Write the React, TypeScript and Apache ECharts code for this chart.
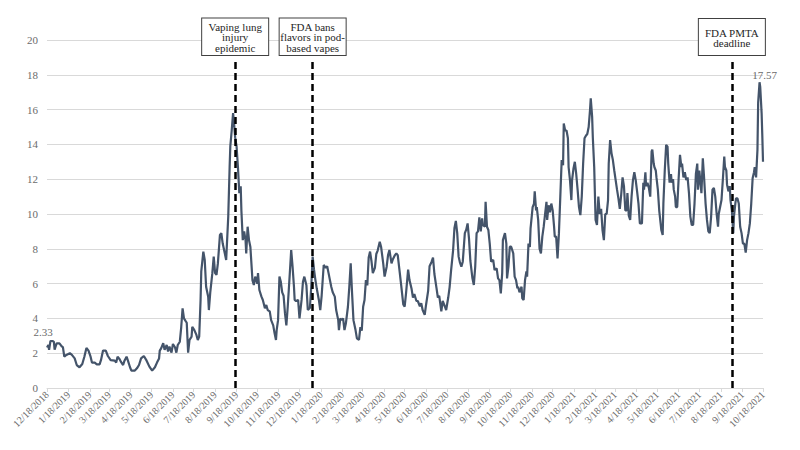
import React, { useEffect, useRef } from 'react';
import * as echarts from 'echarts';

// Day offsets are counted from the first date of the series.
const START_DATE = '2018-12-18';
const END_DATE = '2021-10-18';

// [days since START_DATE, value]
const period2019a: [number, number][] = [
  [0, 2.33], [2, 2.47], [3, 2.2], [5, 2.7], [8, 2.7], [10, 2.65], [11, 2.2], [14, 2.57], [18, 2.57], [21, 2.4],
  [23, 2.35], [25, 1.8], [28, 1.9], [33, 2.0], [36, 1.9], [40, 1.7], [43, 1.32], [47, 1.19], [51, 1.38], [54, 1.8],
  [57, 2.3], [60, 2.15], [63, 1.8], [65, 1.46], [69, 1.46], [72, 1.36], [76, 1.36], [78, 1.6], [81, 2.15], [85, 2.15],
  [88, 1.84], [92, 1.6], [98, 1.57], [100, 1.46], [102, 1.8], [105, 1.65], [107, 1.5], [110, 1.32], [112, 1.57], [115, 1.8],
  [117, 1.57], [120, 1.19], [122, 1.0], [127, 1.0], [130, 1.13], [133, 1.32], [136, 1.7], [140, 1.84], [144, 1.57], [148, 1.23],
  [152, 1.0], [156, 1.19], [159, 1.46], [162, 1.7], [163, 2.15], [165, 2.28], [168, 2.57], [170, 2.2], [173, 2.47], [175, 2.1],
  [177, 2.38], [180, 2.03], [182, 2.53], [185, 2.34], [187, 2.03], [189, 2.47], [192, 2.66], [194, 3.49], [196, 4.58], [198, 4.0],
  [200, 3.87], [202, 3.75], [204, 2.03], [206, 2.76], [209, 2.95], [210, 3.52], [213, 3.33], [216, 3.05], [218, 2.76], [220, 2.95],
  [222, 5.06], [223, 6.7], [226, 7.84], [228, 7.36], [230, 5.82], [233, 5.25], [234, 4.48], [236, 5.5], [239, 6.6], [241, 7.55],
  [243, 6.6], [245, 6.5], [247, 7.16], [250, 8.8],
];

const period2019b: [number, number][] = [
  [252, 8.9], [254, 8.3], [257, 7.74], [259, 7.36], [262, 9.85], [264, 12.7], [265, 13.9], [267, 14.8], [269, 15.8], [270, 15.4],
  [272, 14.4], [274, 13.9], [276, 12.7], [278, 11.2], [280, 11.6], [281, 10.2], [283, 8.5], [285, 9.0], [287, 8.5], [288, 7.74],
  [290, 9.27], [292, 8.5], [294, 8.1], [297, 6.2], [299, 5.92], [301, 6.4], [304, 6.0], [305, 6.6], [307, 5.63], [310, 5.25],
  [312, 5.06], [315, 4.58], [317, 4.77], [319, 4.48], [322, 4.4], [324, 3.9], [327, 3.6], [329, 3.14], [331, 2.76], [332, 3.33],
  [334, 3.9], [336, 6.4], [338, 6.1], [340, 5.5], [342, 5.3], [344, 4.3], [346, 3.6], [348, 4.67], [351, 6.6], [353, 7.93],
  [355, 6.97], [357, 5.82], [358, 5.06], [360, 5.0], [363, 5.06], [365, 4.0], [368, 5.06], [370, 6.1], [372, 6.4], [375, 5.9],
  [377, 4.48], [380, 4.6], [382, 5.82], [384, 7.55], [386, 6.8], [388, 6.2], [390, 5.7], [393, 5.06], [395, 4.48], [397, 5.3],
  [400, 7.07], [403, 6.9], [405, 7.0], [407, 6.6], [409, 6.2], [411, 5.8], [413, 5.5], [416, 5.25], [418, 4.48], [421, 3.9],
  [422, 3.33], [424, 4.0], [426, 3.9], [428, 4.0], [430, 3.33], [432, 3.7], [435, 4.67], [437, 5.82], [439, 7.16], [441, 5.44],
  [443, 3.9], [446, 3.33], [448, 2.85], [451, 2.76], [453, 3.5], [455, 3.3], [457, 4.67], [459, 5.06], [461, 6.2], [463, 5.9],
  [465, 7.5], [467, 7.84], [469, 7.3], [471, 6.6], [474, 6.9], [476, 7.7], [478, 7.9], [481, 8.4],
];

const period2020: [number, number][] = [
  [483, 8.1], [486, 7.16], [488, 6.4], [491, 6.97], [493, 7.64], [495, 7.93], [498, 7.16], [500, 7.4], [503, 7.64], [505, 7.74],
  [507, 7.64], [510, 6.6], [512, 5.9], [515, 4.8], [517, 4.67], [519, 5.44], [522, 6.8], [524, 6.2], [527, 5.7], [529, 5.2],
  [531, 5.4], [534, 5.0], [536, 5.0], [539, 4.7], [541, 4.87], [543, 4.48], [546, 4.2], [548, 4.8], [551, 5.6], [553, 7.0],
  [556, 7.26], [558, 7.5], [560, 6.55], [563, 5.75], [565, 5.2], [567, 5.3], [570, 4.4], [572, 5.0], [575, 4.7], [577, 4.48],
  [580, 5.2], [582, 5.8], [584, 6.7], [587, 7.9], [589, 9.2], [591, 9.6], [593, 8.9], [595, 7.55], [597, 7.2], [599, 6.97],
  [601, 7.26], [604, 8.9], [606, 9.1], [608, 9.46], [610, 8.6], [612, 7.3], [615, 6.3], [617, 5.92], [619, 6.97], [621, 8.9],
  [623, 9.0], [625, 9.8], [627, 9.0], [629, 9.75], [630, 9.37], [633, 9.27], [634, 10.7], [636, 9.27], [638, 9.08], [640, 8.3],
  [642, 7.26], [645, 7.36], [647, 6.78], [650, 6.88], [652, 6.3], [654, 6.2], [656, 5.44], [658, 6.6], [659, 8.5], [662, 8.9],
  [664, 8.3], [665, 6.3], [667, 6.97], [669, 8.12], [671, 8.12], [674, 7.74], [676, 6.4], [678, 6.2], [680, 5.73], [681, 5.82],
  [683, 5.5], [686, 5.82], [687, 5.15], [689, 5.06], [691, 6.2], [693, 6.7], [694, 6.4], [696, 8.3], [698, 8.1], [699, 9.18],
  [702, 10.4], [704, 10.6], [705, 11.3], [707, 10.2], [708, 10.4], [710, 9.66], [712, 8.0], [714, 7.74], [716, 8.7], [718, 9.27],
  [720, 10.0], [722, 10.7], [723, 9.66], [725, 10.5], [727, 10.1], [729, 10.6], [731, 10.2], [733, 9.27], [734, 8.7], [736, 8.7],
  [738, 7.45], [740, 8.9],
];

const period2021: [number, number][] = [
  [742, 11.0], [744, 13.1], [746, 12.8], [747, 15.2], [749, 14.8], [751, 14.8], [753, 14.35], [754, 12.7], [756, 11.95], [758, 10.8],
  [759, 11.95], [761, 12.6], [763, 13.0], [765, 12.3], [767, 11.4], [769, 10.4], [771, 9.94], [773, 11.0], [775, 12.9], [777, 14.35],
  [779, 14.5], [781, 14.6], [783, 15.0], [785, 16.0], [786, 16.65], [788, 15.6], [789, 14.4], [791, 12.7], [793, 9.66], [795, 9.37],
  [797, 11.0], [799, 10.0], [801, 10.3], [803, 9.08], [805, 8.5], [807, 10.0], [809, 10.0], [811, 10.8], [812, 12.9], [814, 14.25],
  [816, 13.5], [818, 13.1], [820, 12.5], [822, 11.95], [824, 11.4], [826, 10.9], [828, 10.3], [830, 11.1], [832, 12.1], [834, 11.6],
  [836, 10.2], [838, 10.2], [839, 11.2], [841, 9.9], [843, 9.66], [845, 11.0], [847, 11.95], [849, 12.4], [851, 11.95], [853, 11.3],
  [855, 10.6], [857, 9.46], [860, 9.46], [862, 11.8], [863, 11.4], [865, 12.4], [866, 11.6], [868, 11.8], [870, 11.5], [872, 11.0],
  [874, 13.6], [875, 13.7], [877, 12.9], [878, 12.7], [880, 12.5], [881, 12.1], [883, 11.4], [885, 10.2], [887, 9.46], [888, 9.08],
  [890, 8.8], [891, 10.6], [893, 12.5], [895, 13.97], [897, 13.87], [898, 12.9], [900, 11.8], [902, 12.3], [903, 11.8], [905, 12.0],
  [906, 11.4], [908, 11.0], [909, 10.4], [911, 10.4], [913, 12.0], [915, 13.4], [917, 12.7], [918, 12.9], [920, 12.1], [922, 12.4],
  [924, 11.95], [926, 12.1], [928, 11.2], [930, 9.85], [932, 9.37], [934, 9.37], [936, 10.6], [938, 12.3], [940, 12.9], [941, 11.4],
  [943, 12.5], [944, 12.05], [946, 11.2], [948, 13.2], [950, 12.0], [952, 10.6], [954, 9.66], [956, 9.0], [958, 8.9], [960, 9.85],
  [962, 11.4], [964, 11.5], [966, 11.0], [968, 10.0], [970, 9.27], [971, 10.0], [973, 10.4], [975, 10.8], [977, 12.0], [979, 13.3],
  [980, 12.7], [982, 12.5], [983, 11.7], [985, 11.3], [987, 11.6], [988, 10.8], [990, 10.2], [992, 8.9], [993, 9.85], [995, 10.6],
  [996, 10.9], [998, 10.9], [1000, 10.6], [1002, 9.27], [1004, 8.9], [1006, 8.3], [1008, 8.3], [1010, 7.78], [1012, 8.5], [1014, 8.9],
  [1016, 9.46], [1018, 10.6], [1020, 12.05], [1022, 12.4], [1023, 12.7], [1025, 12.1], [1027, 13.7], [1028, 16.4], [1030, 17.57], [1031, 17.3],
  [1033, 15.8], [1034, 14.5], [1035, 13.0],
];

const eventDates = ['2019-09-16', '2020-01-06', '2021-09-03'];
const eventLabels = ['Vaping lung\ninjury\nepidemic', 'FDA bans\nflavors in pod-\nbased vapes', 'FDA PMTA\ndeadline'];
const eventLineTop = 18.74;

const yMin = 0;
const yMax = 20;
const yInterval = 2;

const DAY = 86400000;
const startMs = Date.parse(START_DATE);
const dayOf = (iso: string) => Math.round((Date.parse(iso) - startMs) / DAY);
const endDay = dayOf(END_DATE);

// Monthly ticks on the 18th of each month
const tickDays: number[] = [];
for (let y = 2018, m = 11; y < 2021 || (y === 2021 && m <= 9); ) {
  tickDays.push(Math.round((Date.UTC(y, m, 18) - startMs) / DAY));
  m++;
  if (m > 11) { m = 0; y++; }
}
const fmtDay = (v: number) => {
  const dt = new Date(startMs + Math.round(v) * DAY);
  return `${dt.getUTCMonth() + 1}/${dt.getUTCDate()}/${dt.getUTCFullYear()}`;
};

const SERIF = 'Liberation Serif';

export default function App() {
  const ref = useRef<HTMLDivElement>(null);
  useEffect(() => {
    const chart = echarts.init(ref.current!, null, { renderer: 'svg' });
    const all = [...period2019a, ...period2019b, ...period2020, ...period2021];
    let maxPt = all[0];
    all.forEach((p) => { if (p[1] > maxPt[1]) maxPt = p; });
    const firstPt = all[0];

    const option: any = {
      animation: false,
      backgroundColor: '#ffffff',
      textStyle: { fontFamily: SERIF },
      grid: { left: 47, right: 37, top: 40, bottom: 62, containLabel: false },
      xAxis: {
        type: 'value',
        min: 0,
        max: endDay,
        axisLine: { show: true, lineStyle: { color: '#d9d9d9', width: 1 } },
        axisTick: { show: true, customValues: tickDays, length: 4, lineStyle: { color: '#d9d9d9' } },
        axisLabel: {
          customValues: tickDays,
          rotate: 45,
          formatter: (v: number) => fmtDay(v),
          fontSize: 10,
          color: '#6b6b6b',
          margin: 5,
          fontFamily: SERIF,
        },
        splitLine: { show: false },
      },
      yAxis: {
        type: 'value',
        min: yMin,
        max: yMax,
        interval: yInterval,
        axisLine: { show: false },
        axisTick: { show: false },
        axisLabel: { fontSize: 11, color: '#6b6b6b', margin: 9, fontFamily: SERIF },
        splitLine: { lineStyle: { color: '#d9d9d9', width: 1 } },
      },
      series: [
        {
          type: 'line',
          data: all,
          showSymbol: false,
          symbol: 'none',
          lineStyle: { color: '#44546A', width: 2.2 },
          z: 3,
          markPoint: {
            symbol: 'circle',
            symbolSize: 0,
            silent: true,
            label: {
              show: true,
              color: '#6b6b6b',
              fontSize: 11,
              fontFamily: SERIF,
              formatter: (p: any) => Number(p.value).toFixed(2),
            },
            data: [
              { coord: firstPt, value: firstPt[1], label: { position: 'top', distance: 5, offset: [-4, -5] } },
              { coord: maxPt, value: maxPt[1], label: { position: 'top', distance: 2, offset: [5, 0] } },
            ],
          },
          markLine: {
            silent: true,
            symbol: ['none', 'none'],
            lineStyle: { color: '#000000', type: [7, 4], width: 2.5 },
            label: {
              show: true,
              position: 'end',
              formatter: '{b}',
              distance: 7,
              color: '#262626',
              fontSize: 11,
              lineHeight: 10.5,
              fontFamily: SERIF,
              backgroundColor: '#ffffff',
              borderColor: '#404040',
              borderWidth: 1,
              padding: [3, 4, 2, 4],
              width: 58,
              align: 'center',
            },
            data: eventDates.map((d, i) => [
              {
                name: eventLabels[i],
                coord: [dayOf(d), 0],
                label: i === 2 ? { padding: [8.5, 4, 6.5, 4] } : {},
              },
              { coord: [dayOf(d), eventLineTop] },
            ]),
          },
        },
      ],
    };
    chart.setOption(option);
    return () => chart.dispose();
  }, []);
  return <div ref={ref} style={{ position: 'fixed', left: 0, top: 0, width: 800, height: 450 }} />;
}
